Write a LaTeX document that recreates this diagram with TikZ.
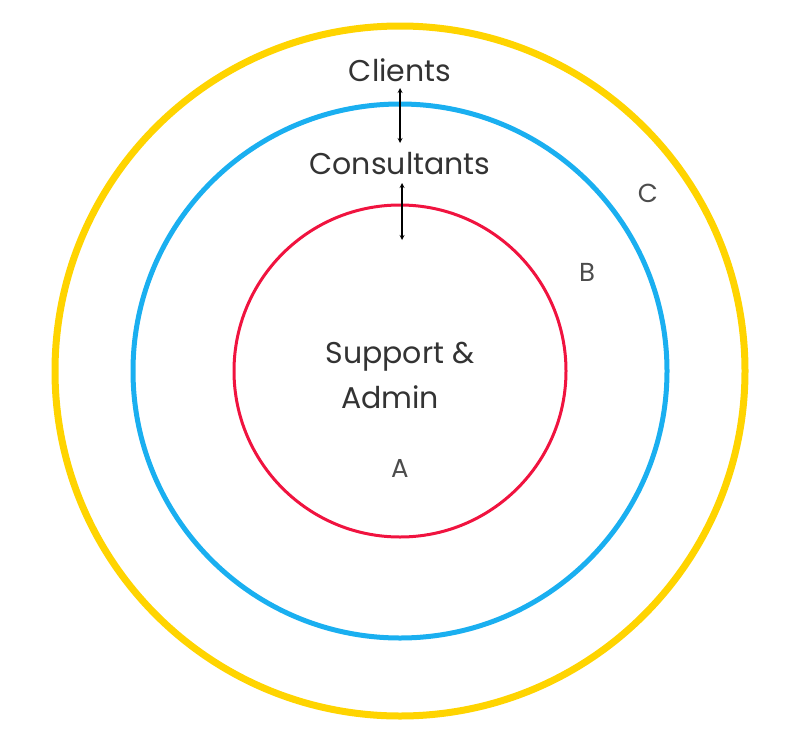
\documentclass[tikz,border=0pt]{standalone}
\usepackage{fontspec}
\setmainfont{Poppins}
\begin{document}
\begin{tikzpicture}[x=1pt,y=-1pt,
  ring/.style={draw=#1,fill=none},
  lab/.style={text=black!80,font=\fontsize{30}{36}\selectfont},
  let/.style={text=black!70,font=\fontsize{26}{30}\selectfont},
  dbl/.style={<->,>=stealth,line width=1.2pt}]
\useasboundingbox (0,0) rectangle (800,744);
\definecolor{cy}{HTML}{FFD400}
\definecolor{cb}{HTML}{1AAFF0}
\definecolor{cr}{HTML}{F0133F}
\node[ring=cy,circle,line width=7pt,minimum size=690pt,inner sep=0] (C) at (400,371) {};
\node[ring=cb,circle,line width=5pt,minimum size=534pt,inner sep=0] (B) at (400,371) {};
\node[ring=cr,circle,line width=3pt,minimum size=332pt,inner sep=0] (A) at (400,371) {};
\node[lab] (cl) at (400,70) {Clients};
\node[lab] (co) at (400,164) {Consultants};
\node[lab,align=center,font=\fontsize{30}{45}\selectfont] (sa) at (400,375) {Support \&\\\hspace*{-20pt}Admin};
\node[let] (la) at (400,468) {A};
\node[let] (lb) at (587,272) {B};
\node[let] (lc) at (648,193) {C};
\coordinate (a1) at (400,88); \coordinate (a2) at (400,143);
\coordinate (b1) at (402,183); \coordinate (b2) at (402,240);
\draw[dbl] (a1) -- (a2);
\draw[dbl] (b1) -- (b2);
\end{tikzpicture}
\end{document}
